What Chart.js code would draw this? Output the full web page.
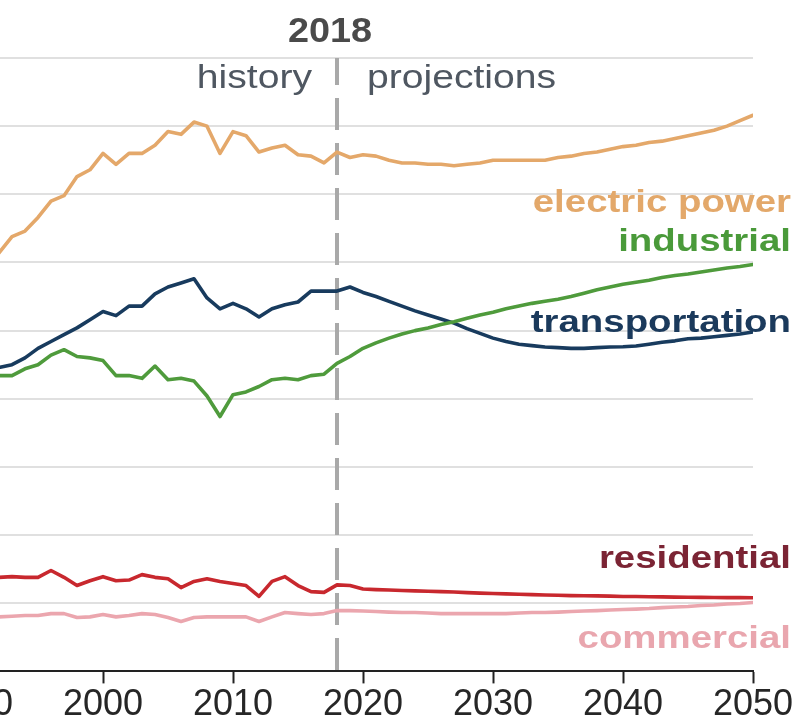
<!DOCTYPE html>
<html>
<head>
<meta charset="utf-8">
<script src="https://cdn.jsdelivr.net/npm/chart.js@4"></script>
<style>
html, body { margin: 0; padding: 0; background: #fff; overflow: hidden; width: 800px; height: 727px; }
#wrap { position: absolute; left: -100px; top: 0; width: 900px; height: 727px; }
</style>
</head>
<body>
<div id="wrap"><canvas id="chart" width="900" height="727"></canvas></div>
<script>
// Years 1990-2050 (history to 2018, projections after)
const years = Array.from({ length: 61 }, (_, i) => 1990 + i);
const splitYear = 2018;

const electricPower = [
    29.1, 30.1, 30.7, 31.9, 32.3, 33.3, 34.5, 34.9, 36.3, 36.8,
    38.0, 37.2, 38.0, 38.0, 38.6, 39.6, 39.4, 40.3, 40.0, 38.0,
    39.6, 39.3, 38.1, 38.4, 38.6, 37.9, 37.8, 37.3, 38.1, 37.7,
    37.9, 37.8, 37.5, 37.3, 37.3, 37.2, 37.2, 37.1, 37.2, 37.3,
    37.5, 37.5, 37.5, 37.5, 37.5, 37.7, 37.8, 38.0, 38.1, 38.3,
    38.5, 38.6, 38.8, 38.9, 39.1, 39.3, 39.5, 39.7, 40.0, 40.4,
    40.8
];
const industrial = [
    21.6, 21.65, 21.7, 21.7, 22.2, 22.5, 23.2, 23.6, 23.1, 23.0,
    22.8, 21.7, 21.7, 21.5, 22.4, 21.4, 21.5, 21.3, 20.2, 18.7,
    20.3, 20.5, 20.9, 21.4, 21.5, 21.4, 21.7, 21.8, 22.6, 23.1,
    23.7, 24.1, 24.45, 24.75, 25.0, 25.2, 25.45, 25.65, 25.9, 26.15,
    26.35, 26.6, 26.8, 27.0, 27.15, 27.3, 27.5, 27.75, 28.0, 28.2,
    28.4, 28.55, 28.7, 28.9, 29.05, 29.15, 29.3, 29.45, 29.6, 29.7,
    29.85
];
const transportation = [
    22.0, 22.2, 22.3, 22.5, 23.0, 23.7, 24.2, 24.7, 25.2, 25.8,
    26.4, 26.1, 26.8, 26.8, 27.7, 28.2, 28.5, 28.8, 27.4, 26.6,
    27.0, 26.6, 26.0, 26.6, 26.9, 27.1, 27.9, 27.9, 27.9, 28.2,
    27.8, 27.5, 27.15, 26.8, 26.45, 26.15, 25.85, 25.55, 25.15, 24.8,
    24.45, 24.2, 24.0, 23.9, 23.8, 23.75, 23.7, 23.7, 23.75, 23.8,
    23.82, 23.87, 24.0, 24.15, 24.25, 24.4, 24.45, 24.55, 24.65, 24.75,
    24.9
];
const residential = [
    6.7, 6.8, 6.9, 6.95, 6.9, 6.9, 7.4, 6.9, 6.3, 6.65,
    6.95, 6.65, 6.7, 7.1, 6.9, 6.8, 6.15, 6.6, 6.8, 6.6,
    6.45, 6.3, 5.5, 6.6, 6.95, 6.3, 5.85, 5.8, 6.35, 6.3,
    6.05, 6.0, 5.97, 5.94, 5.91, 5.88, 5.85, 5.82, 5.78, 5.74,
    5.71, 5.69, 5.66, 5.63, 5.61, 5.59, 5.56, 5.55, 5.54, 5.52,
    5.5, 5.49, 5.48, 5.47, 5.45, 5.44, 5.43, 5.42, 5.41, 5.41,
    5.4
];
const commercial = [
    3.95, 4.0, 4.0, 4.05, 4.1, 4.1, 4.24, 4.24, 3.95, 4.0,
    4.17, 4.0, 4.1, 4.24, 4.17, 3.95, 3.66, 3.95, 4.0, 4.0,
    4.0, 4.0, 3.66, 4.0, 4.32, 4.24, 4.17, 4.24, 4.46, 4.46,
    4.43, 4.39, 4.35, 4.32, 4.32, 4.28, 4.24, 4.24, 4.24, 4.24,
    4.24, 4.24, 4.28, 4.32, 4.32, 4.35, 4.39, 4.43, 4.46, 4.5,
    4.54, 4.57, 4.61, 4.68, 4.72, 4.76, 4.83, 4.87, 4.94, 4.98,
    5.05
];

const FONT = '"Liberation Sans", Arial, Helvetica, sans-serif';

// Series: name, line colour, label colour, label baseline (px)
const series = [
    { name: 'commercial', data: commercial, line: '#eba6ae', text: '#e9a6ae', labelY: 648 },
    { name: 'residential', data: residential, line: '#c8282e', text: '#7b2434', labelY: 568 },
    { name: 'industrial', data: industrial, line: '#4f9b3c', text: '#4a9a3a', labelY: 251 },
    { name: 'transportation', data: transportation, line: '#183b5e', text: '#1b3a5c', labelY: 332 },
    { name: 'electric power', data: electricPower, line: '#e4a86a', text: '#e3a86a', labelY: 212 },
];

function drawText(ctx, text, x, y, align, font, color, sx) {
    ctx.save();
    ctx.translate(x, y);
    ctx.scale(sx, 1);
    ctx.font = font;
    ctx.fillStyle = color;
    ctx.textAlign = align;
    ctx.textBaseline = 'alphabetic';
    ctx.fillText(text, 0, 0);
    ctx.restore();
}

// Dashed 2018 divider and text labels
const annotations = {
    id: 'annotations',
    beforeDatasetsDraw(chart) {
        const { ctx, chartArea, scales } = chart;
        const x = scales.x.getPixelForValue(splitYear);
        ctx.save();
        ctx.strokeStyle = '#a9a9a9';
        ctx.lineWidth = 4;
        ctx.setLineDash([32, 13]);
        ctx.lineDashOffset = 5;
        ctx.beginPath();
        ctx.moveTo(x, chartArea.top);
        ctx.lineTo(x, chartArea.bottom);
        ctx.stroke();
        ctx.restore();
    },
    afterDatasetsDraw(chart) {
        const { ctx, chartArea, scales } = chart;
        const x = scales.x.getPixelForValue(splitYear);
        drawText(ctx, String(splitYear), x - 7, 42, 'center', 'bold 35px ' + FONT, '#4a4a4a', 1.08);
        drawText(ctx, 'history', x - 25, 88, 'right', '34px ' + FONT, '#4f5761', 1.15);
        drawText(ctx, 'projections', x + 30, 88, 'left', '34px ' + FONT, '#4f5761', 1.15);

        const right = chartArea.right + 38;
        series.forEach(s => {
            drawText(ctx, s.name, right, s.labelY, 'right', 'bold 32px ' + FONT, s.text, 1.2);
        });
    }
};

const chart = new Chart(document.getElementById('chart'), {
    type: 'line',
    data: {
        datasets: series.map(s => ({
            label: s.name,
            data: years.map((yr, i) => ({ x: yr, y: s.data[i] })),
            borderColor: s.line,
            borderWidth: 3.6,
            borderJoinStyle: 'round',
            borderCapStyle: 'round',
            pointRadius: 0,
            tension: 0,
            fill: false,
        }))
    },
    options: {
        responsive: false,
        animation: false,
        layout: { padding: { left: 73, right: 47, top: 58, bottom: 0 } },
        plugins: {
            legend: { display: false },
            tooltip: { enabled: false },
        },
        scales: {
            x: {
                type: 'linear',
                min: 1990,
                max: 2050,
                ticks: {
                    stepSize: 10,
                    padding: 2,
                    color: '#262626',
                    font: { family: FONT, size: 36, lineHeight: 1.1 },
                    callback: (v) => String(v),
                    maxRotation: 0,
                },
                grid: {
                    drawOnChartArea: false,
                    drawTicks: true,
                    tickLength: 12,
                    tickWidth: 2,
                    tickColor: '#222',
                },
                border: { display: true, color: '#222', width: 2 },
            },
            y: {
                min: 0,
                max: 45,
                ticks: { display: false, stepSize: 5 },
                grid: { color: '#e0e0e0', lineWidth: 2, drawTicks: false },
                border: { display: false },
            }
        }
    },
    plugins: [annotations]
});
</script>
</body>
</html>
